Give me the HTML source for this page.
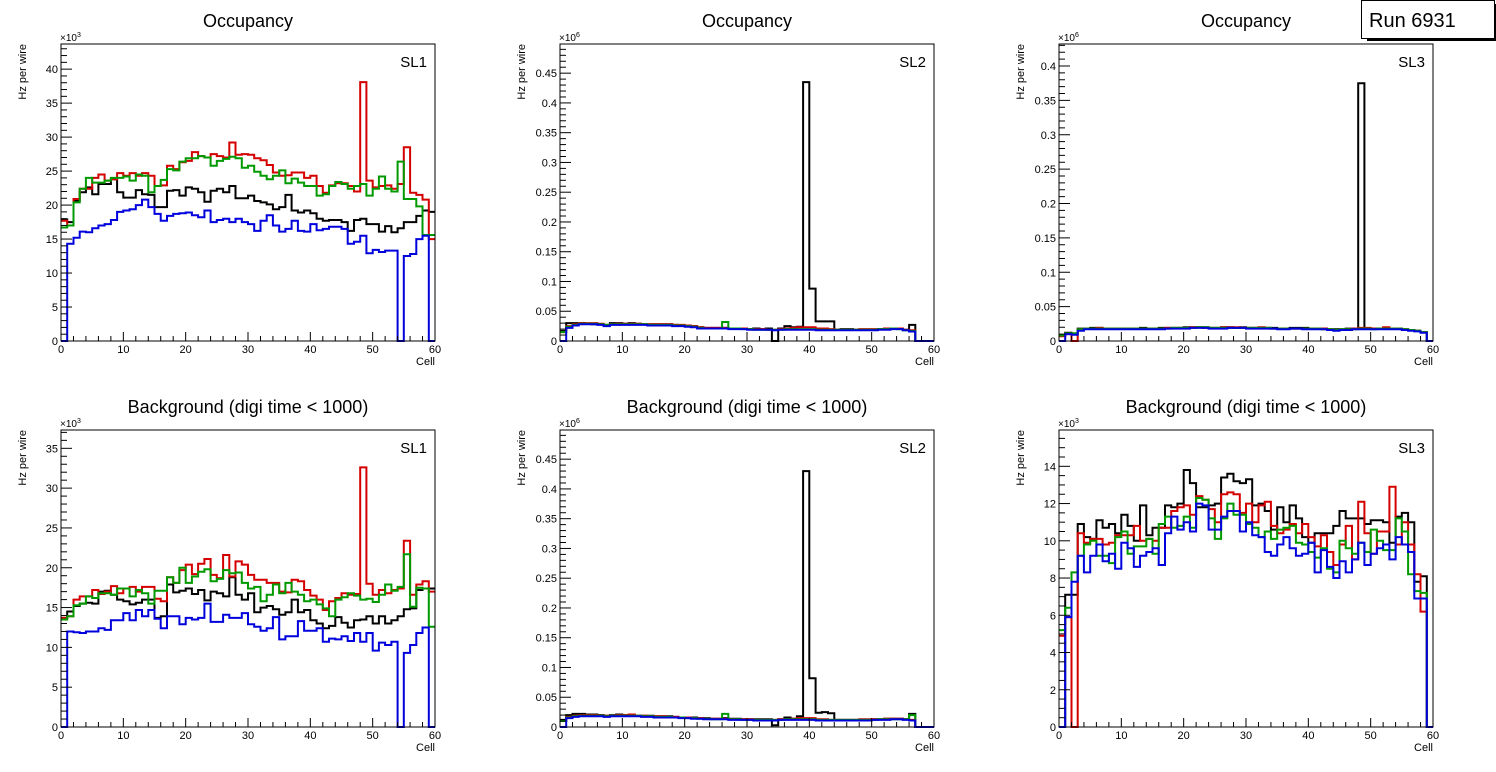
<!DOCTYPE html>
<html><head><meta charset="utf-8">
<style>
html,body{margin:0;padding:0;background:#fff;}
svg{display:block;font-family:"Liberation Sans",sans-serif;}
</style></head>
<body>
<svg id="c" width="1496" height="772" viewBox="0 0 1496 772">
  <g>
    <rect x="1367" y="4" width="129" height="37" fill="#000"/>
    <rect x="1361.5" y="0.5" width="133" height="38" fill="#fff" stroke="#000" stroke-width="1"/>
    <text x="1369" y="27" font-size="20" fill="#000">Run 6931</text>
  </g>
</svg>
<script>
// ---- data: 60 bins per series (cell 0..59) ----
const cells = Array.from({length:60},(_,i)=>i);
const seriesNames = ["black","red","green","blue"];
const seriesColors = ["#000000","#d40000","#009a00","#0000dd"];

const occSL1_black = [17.9,17.5,20.6,21.9,22.6,21.6,23.1,23.1,23.8,21.9,21.1,21.1,22.2,21.6,21.5,19.7,19.7,22.1,22.2,21.4,22.6,22.4,21.9,20.5,22.1,22.4,21.9,22.8,21.0,21.0,21.4,20.6,20.4,20.1,19.4,19.7,21.5,19.2,18.9,19.2,18.8,18.0,17.7,17.8,17.8,17.5,16.2,17.8,18.0,17.2,17.2,16.1,16.9,16.0,16.6,17.5,17.5,18.4,19.2,19.0];
const occSL1_red   = [17.7,17.0,20.9,22.4,22.4,24.0,24.5,23.6,23.8,24.7,24.3,24.7,24.3,24.7,24.3,22.8,22.9,25.8,25.3,26.3,26.5,27.8,27.2,27.0,27.5,27.2,27.0,29.2,27.4,27.5,27.4,26.9,26.6,25.9,24.8,24.3,24.4,24.8,24.8,24.0,24.3,22.8,21.8,22.9,23.2,23.2,22.8,22.0,38.1,23.6,22.6,22.8,22.9,22.4,23.1,28.5,21.8,21.5,20.8,15.0];
const occSL1_green = [16.7,17.0,20.4,22.4,24.0,23.3,23.3,23.6,24.0,24.0,24.2,23.6,24.5,24.3,21.9,22.8,23.7,25.3,25.1,26.4,26.9,26.9,27.2,27.0,25.8,26.5,26.8,27.1,26.9,25.5,25.8,24.9,24.3,23.8,24.3,25.1,23.2,23.9,23.3,22.8,22.8,21.4,21.6,22.8,23.4,23.1,22.4,22.8,23.1,21.4,22.4,24.2,22.4,22.0,26.4,20.9,20.9,19.8,15.6,15.6];
const occSL1_blue  = [0,14.3,15.2,16.1,16.0,16.6,17.0,17.2,17.8,19.0,19.2,19.4,20.0,20.8,19.7,18.7,17.7,18.4,18.7,18.8,18.9,18.5,18.2,19.2,17.5,17.8,18.0,17.5,18.0,17.5,17.2,16.2,17.7,18.5,17.0,16.1,16.5,17.7,16.2,16.1,17.2,16.3,16.5,16.8,16.8,16.5,14.3,14.6,15.5,12.9,13.4,13.1,13.3,13.3,0,12.5,12.8,15.0,15.5,0];

const occSL2_black = [0.017,0.030,0.030,0.030,0.029,0.028,0.028,0.027,0.030,0.030,0.029,0.030,0.029,0.028,0.028,0.028,0.028,0.028,0.027,0.026,0.026,0.025,0.023,0.022,0.022,0.022,0.022,0.021,0.021,0.021,0.020,0.021,0.020,0.021,0,0.021,0.025,0.023,0.024,0.435,0.088,0.033,0.033,0.033,0.019,0.020,0.020,0.019,0.019,0.019,0.019,0.020,0.021,0.021,0.021,0.019,0.027,0,0,0];
const occSL2_red   = [0.015,0.025,0.028,0.030,0.030,0.030,0.029,0.027,0.028,0.029,0.029,0.029,0.029,0.028,0.028,0.028,0.028,0.028,0.027,0.027,0.026,0.025,0.023,0.022,0.022,0.022,0.022,0.021,0.021,0.021,0.020,0.020,0.020,0.019,0.019,0.020,0.021,0.022,0.023,0.023,0.023,0.021,0.021,0.020,0.019,0.019,0.019,0.019,0.020,0.020,0.020,0.020,0.021,0.021,0.021,0.019,0.018,0,0,0];
const occSL2_green = [0.015,0.024,0.027,0.029,0.029,0.029,0.028,0.027,0.028,0.028,0.028,0.028,0.028,0.028,0.027,0.027,0.027,0.027,0.026,0.026,0.025,0.024,0.022,0.021,0.021,0.021,0.032,0.021,0.021,0.020,0.020,0.019,0.019,0.019,0.019,0.019,0.020,0.020,0.020,0.020,0.020,0.019,0.019,0.019,0.019,0.019,0.019,0.019,0.019,0.019,0.019,0.020,0.020,0.021,0.020,0.018,0.017,0,0,0];
const occSL2_blue  = [0,0.022,0.026,0.028,0.028,0.028,0.027,0.025,0.027,0.027,0.027,0.027,0.027,0.027,0.026,0.026,0.026,0.026,0.025,0.025,0.024,0.023,0.021,0.021,0.021,0.021,0.021,0.020,0.020,0.020,0.019,0.019,0.019,0.019,0.018,0.019,0.019,0.019,0.019,0.019,0.019,0.018,0.018,0.018,0.018,0.018,0.018,0.018,0.018,0.018,0.018,0.019,0.019,0.020,0.020,0.018,0.016,0,0,0];

const occSL3_black = [0.008,0.012,0.011,0.018,0.018,0.019,0.019,0.018,0.018,0.018,0.018,0.018,0.018,0.019,0.018,0.018,0.019,0.019,0.019,0.019,0.020,0.020,0.020,0.020,0.019,0.019,0.020,0.020,0.019,0.020,0.019,0.019,0.019,0.019,0.019,0.018,0.018,0.019,0.019,0.019,0.018,0.018,0.018,0.017,0.017,0.017,0.018,0.018,0.375,0.018,0.018,0.018,0.018,0.018,0.018,0.017,0.016,0.015,0.013,0];
const occSL3_red   = [0.007,0.010,0,0.017,0.018,0.018,0.019,0.018,0.018,0.018,0.018,0.018,0.018,0.018,0.018,0.018,0.018,0.019,0.019,0.019,0.019,0.020,0.020,0.019,0.019,0.019,0.020,0.020,0.020,0.019,0.019,0.019,0.020,0.019,0.018,0.018,0.018,0.018,0.018,0.018,0.018,0.018,0.018,0.017,0.016,0.017,0.017,0.018,0.019,0.019,0.018,0.018,0.020,0.018,0.018,0.017,0.016,0.015,0.013,0];
const occSL3_green = [0.008,0.011,0.011,0.017,0.018,0.018,0.018,0.018,0.018,0.018,0.018,0.018,0.018,0.018,0.018,0.018,0.018,0.018,0.019,0.019,0.019,0.019,0.020,0.020,0.019,0.019,0.019,0.019,0.019,0.019,0.019,0.019,0.019,0.019,0.018,0.018,0.018,0.018,0.018,0.018,0.018,0.018,0.017,0.017,0.016,0.017,0.017,0.017,0.018,0.018,0.017,0.018,0.018,0.018,0.018,0.017,0.016,0.015,0.013,0];
const occSL3_blue  = [0,0.010,0.009,0.015,0.017,0.017,0.017,0.017,0.017,0.017,0.017,0.017,0.017,0.017,0.017,0.017,0.017,0.018,0.018,0.018,0.018,0.019,0.019,0.019,0.018,0.018,0.018,0.019,0.019,0.019,0.018,0.018,0.018,0.018,0.018,0.017,0.017,0.018,0.018,0.017,0.017,0.017,0.017,0.016,0.015,0.016,0.016,0.017,0.017,0.017,0.017,0.017,0.017,0.017,0.017,0.016,0.015,0.014,0.012,0];

const bgSL1_black = [13.7,14.5,15.2,15.5,15.6,15.5,17.0,17.1,16.6,16.0,15.8,15.4,15.6,16.0,16.0,13.7,13.9,17.9,16.9,17.1,17.4,16.7,17.2,15.9,17.0,16.8,16.4,18.8,16.6,16.0,16.8,14.4,15.0,15.2,14.8,14.1,14.4,16.0,14.4,14.7,13.4,13.0,12.4,12.7,13.8,13.1,12.5,13.4,13.5,13.9,13.0,13.9,13.0,13.4,13.9,14.8,14.9,17.2,17.4,17.4];
const bgSL1_red   = [13.7,13.9,16.0,16.4,16.4,17.2,16.7,17.0,17.7,16.8,17.4,17.6,17.0,17.6,17.6,16.1,15.8,18.8,18.1,19.7,20.4,19.2,20.5,21.1,19.1,18.7,21.6,18.9,20.8,20.4,19.1,18.5,18.5,18.1,18.1,17.0,16.9,18.5,18.3,17.2,16.5,16.0,14.7,15.8,16.2,16.8,16.6,16.7,32.6,18.0,16.6,17.2,16.8,17.2,17.4,23.4,16.6,17.9,18.3,17.0];
const bgSL1_green = [13.5,13.9,15.3,15.5,16.4,16.2,16.8,16.8,16.6,17.4,17.4,16.4,17.2,16.8,15.5,17.1,17.1,18.8,18.1,20.0,18.1,18.9,19.5,19.8,18.3,18.6,19.7,19.3,19.4,18.1,17.4,17.6,15.8,16.6,17.9,16.8,18.1,17.0,16.6,15.8,16.0,15.4,14.9,13.9,16.0,16.3,16.8,16.5,16.0,16.1,15.7,16.6,17.9,17.1,17.6,21.7,15.1,17.5,17.4,12.6];
const bgSL1_blue  = [0,12.0,11.9,11.8,12.0,12.0,12.4,12.2,13.4,13.4,14.3,13.4,14.7,13.9,14.7,13.6,12.4,13.9,13.9,12.9,13.7,13.5,13.7,15.5,13.2,13.2,14.1,13.7,13.7,14.3,12.9,12.6,12.1,12.4,13.8,11.0,11.4,11.4,13.3,12.1,12.1,12.4,10.7,11.1,11.0,11.4,10.8,11.8,10.7,11.8,9.6,10.6,10.3,10.7,0,9.3,10.3,11.8,12.5,0];

const bgSL2_black = [0.012,0.020,0.022,0.022,0.021,0.021,0.020,0.019,0.020,0.021,0.020,0.020,0.019,0.019,0.019,0.018,0.018,0.018,0.017,0.016,0.016,0.016,0.015,0.015,0.014,0.014,0.015,0.014,0.014,0.013,0.013,0.013,0.013,0.013,0.003,0.013,0.016,0.014,0.018,0.430,0.082,0.024,0.025,0.023,0.012,0.012,0.012,0.012,0.012,0.012,0.013,0.013,0.014,0.014,0.014,0.013,0.022,0,0,0];
const bgSL2_red   = [0.010,0.017,0.019,0.020,0.020,0.020,0.019,0.019,0.019,0.020,0.020,0.021,0.019,0.019,0.018,0.018,0.018,0.017,0.017,0.016,0.016,0.015,0.015,0.014,0.014,0.014,0.014,0.013,0.013,0.013,0.013,0.012,0.012,0.012,0.012,0.013,0.013,0.014,0.015,0.015,0.015,0.013,0.013,0.012,0.012,0.012,0.012,0.012,0.013,0.013,0.013,0.013,0.014,0.014,0.014,0.013,0.012,0,0,0];
const bgSL2_green = [0.010,0.016,0.018,0.019,0.019,0.019,0.019,0.018,0.019,0.019,0.019,0.019,0.019,0.018,0.018,0.017,0.017,0.017,0.016,0.016,0.015,0.015,0.014,0.014,0.013,0.013,0.022,0.013,0.013,0.012,0.012,0.012,0.012,0.012,0.012,0.012,0.013,0.013,0.013,0.013,0.013,0.012,0.012,0.012,0.012,0.012,0.012,0.012,0.012,0.012,0.012,0.013,0.013,0.013,0.013,0.013,0.020,0,0,0];
const bgSL2_blue  = [0,0.015,0.017,0.018,0.018,0.018,0.018,0.017,0.018,0.018,0.018,0.018,0.018,0.017,0.017,0.016,0.016,0.016,0.016,0.015,0.015,0.014,0.014,0.013,0.013,0.013,0.013,0.012,0.012,0.012,0.012,0.011,0.011,0.011,0.011,0.012,0.012,0.012,0.012,0.012,0.012,0.011,0.011,0.011,0.011,0.011,0.011,0.011,0.011,0.011,0.012,0.012,0.012,0.013,0.013,0.012,0.011,0,0,0];

const bgSL3_black = [0,7.1,7.1,10.9,10.2,10.1,11.1,10.7,10.9,10.4,11.4,10.8,10.0,11.9,10.3,10.7,10.7,11.9,11.8,12.0,13.8,13.1,11.8,11.8,11.9,12.0,13.4,13.6,13.2,13.1,13.3,11.9,12.0,11.6,10.6,11.8,11.0,11.9,11.2,10.2,9.9,10.4,10.4,10.4,10.8,11.6,11.2,11.2,11.2,10.9,11.1,11.1,11.0,9.9,11.3,11.5,11.0,7.8,8.1,0];
const bgSL3_red   = [4.9,5.9,0,10.4,9.9,10.1,10.1,9.8,9.9,10.3,10.3,10.3,10.8,10.0,10.1,10.0,10.7,10.7,11.6,11.8,11.9,11.4,12.4,12.2,11.7,11.0,12.5,12.6,12.5,11.5,12.0,11.0,11.9,12.1,10.8,10.4,10.6,10.9,10.4,10.9,10.2,9.7,10.3,9.4,8.7,9.8,10.8,9.0,12.1,10.4,9.3,10.5,10.5,12.9,9.8,11.0,9.8,8.2,6.2,0];
const bgSL3_green = [5.2,6.4,8.3,9.2,9.8,10.0,9.2,9.2,8.8,10.2,10.5,9.3,9.7,9.7,10.1,9.3,10.9,11.3,10.7,10.8,11.3,10.7,12.3,12.2,11.2,10.1,11.2,12.0,11.4,11.4,10.9,10.7,10.2,10.5,10.1,10.6,10.7,10.8,9.9,9.8,9.4,9.1,9.6,8.5,8.3,10.0,9.6,9.3,9.9,9.4,10.6,10.0,9.5,9.5,11.2,10.5,8.2,7.3,7.2,0];
const bgSL3_blue  = [0,5.9,7.8,9.2,8.3,9.2,9.8,8.9,9.3,8.5,9.9,9.6,8.6,9.2,9.4,9.6,8.7,10.4,11.3,10.6,11.0,10.5,12.0,11.9,10.6,10.6,11.3,11.6,11.6,10.5,11.0,10.3,10.2,9.4,9.2,9.8,10.2,9.6,9.2,9.3,9.9,8.3,9.5,8.6,8.0,8.9,8.3,9.0,9.9,8.7,9.3,9.6,9.8,9.0,10.2,9.8,9.4,6.9,6.9,0];

const xTickLabels = ["0","10","20","30","40","50","60"];
const ticksSL1occ = ["0","5","10","15","20","25","30","35","40"];
const ticksSL1bg  = ["0","5","10","15","20","25","30","35"];
const ticksSL2    = ["0","0.05","0.1","0.15","0.2","0.25","0.3","0.35","0.4","0.45"];
const ticksSL3occ = ["0","0.05","0.1","0.15","0.2","0.25","0.3","0.35","0.4"];
const ticksSL3bg  = ["0","2","4","6","8","10","12","14"];

const panels = [
 {name:"occupancy-sl1", title:"Occupancy", sl:"SL1", x0:61, y0:44, y1:341, ymax:43.7, minor:1, ticks:ticksSL1occ, exp:"3", data:[occSL1_black,occSL1_red,occSL1_green,occSL1_blue]},
 {name:"occupancy-sl2", title:"Occupancy", sl:"SL2", x0:560, y0:44, y1:341, ymax:0.499, minor:0.01, ticks:ticksSL2, exp:"6", data:[occSL2_black,occSL2_red,occSL2_green,occSL2_blue]},
 {name:"occupancy-sl3", title:"Occupancy", sl:"SL3", x0:1059, y0:44, y1:341, ymax:0.432, minor:0.01, ticks:ticksSL3occ, exp:"6", data:[occSL3_black,occSL3_red,occSL3_green,occSL3_blue]},
 {name:"background-sl1", title:"Background (digi time < 1000)", sl:"SL1", x0:61, y0:430, y1:727, ymax:37.3, minor:1, ticks:ticksSL1bg, exp:"3", data:[bgSL1_black,bgSL1_red,bgSL1_green,bgSL1_blue]},
 {name:"background-sl2", title:"Background (digi time < 1000)", sl:"SL2", x0:560, y0:430, y1:727, ymax:0.499, minor:0.01, ticks:ticksSL2, exp:"6", data:[bgSL2_black,bgSL2_red,bgSL2_green,bgSL2_blue]},
 {name:"background-sl3", title:"Background (digi time < 1000)", sl:"SL3", x0:1059, y0:430, y1:727, ymax:15.95, minor:0.5, ticks:ticksSL3bg, exp:"3", data:[bgSL3_black,bgSL3_red,bgSL3_green,bgSL3_blue]}
];
const W = 374;
const NS = "http://www.w3.org/2000/svg";
const svg = document.getElementById("c");

function mk(tag, attrs, parent){
  const e = document.createElementNS(NS, tag);
  for (const k in attrs) e.setAttribute(k, attrs[k]);
  parent.appendChild(e);
  return e;
}

panels.forEach(p=>{
  const g = mk("g",{},svg);
  
  
  const xs = v => p.x0 + v / 60 * W;
  const ys = v => p.y1 - v / p.ymax * (p.y1 - p.y0);
  const cx = p.x0 + W/2;

  const t = mk("text",{x:cx, y:p.y0-17, "font-size":18, "text-anchor":"middle"},g);
  t.textContent = p.title;
  
  

  // series
  p.data.forEach((arr,si)=>{
    let d = "M" + xs(0) + "," + ys(arr[0]);
    for (let i=0;i<arr.length;i++){
      if (i>0) d += "V" + ys(arr[i]).toFixed(1);
      d += "H" + xs(cells[i]+1).toFixed(1);
    }
    const path = mk("path",{d:d, fill:"none", stroke:seriesColors[si], "stroke-width":2, "stroke-linejoin":"miter"},g);
    
    
  });

  // frame
  const fr = mk("rect",{x:p.x0, y:p.y0, width:W, height:p.y1-p.y0, fill:"none", stroke:"#000", "stroke-width":1},g);
  
  

  // x ticks
  const xa = mk("g",{},g);
  
  
  for (let v=0; v<=60; v+=2){
    const major = v%10===0;
    mk("line",{x1:xs(v), x2:xs(v), y1:p.y1, y2:p.y1-(major?9:5), stroke:"#000","stroke-width":1},xa);
  }
  xTickLabels.forEach((lab,i)=>{
    const tx = mk("text",{x:xs(i*10), y:p.y1+12, "font-size":11, "text-anchor":"middle"},xa);
    tx.textContent = lab;
  });
  const cl = mk("text",{x:p.x0+W, y:p.y1+24, "font-size":11, "text-anchor":"end"},g);
  cl.textContent = "Cell";
  
  

  // y ticks
  const ya = mk("g",{},g);
  
  
  const step = parseFloat(p.ticks[1]);
  for (let k=0; k*p.minor<=p.ymax+1e-9; k++){
    const v = k*p.minor;
    const r = v/step;
    const major = Math.abs(r-Math.round(r))<1e-6;
    mk("line",{x1:p.x0, x2:p.x0+(major?11:6), y1:ys(v), y2:ys(v), stroke:"#000","stroke-width":1},ya);
  }
  p.ticks.forEach(lab=>{
    const ty = mk("text",{x:p.x0-3, y:ys(parseFloat(lab))+4, "font-size":11, "text-anchor":"end"},ya);
    ty.textContent = lab;
  });
  const ex = mk("text",{x:p.x0-1, y:p.y0-3, "font-size":10},g);
  ex.innerHTML = "×10<tspan dy='-4' font-size='7'>" + p.exp + "</tspan>";
  
  
  const yt = mk("text",{x:0,y:0,"font-size":11,"text-anchor":"end",transform:"translate(" + (p.x0-35) + "," + (p.y0) + ") rotate(-90)"},g);
  yt.textContent = "Hz per wire";
  
  

  const sl = mk("text",{x:p.x0+W-8, y:p.y0+23, "font-size":15, "text-anchor":"end"},g);
  sl.textContent = p.sl;
  
  
});
</script>
</body></html>
